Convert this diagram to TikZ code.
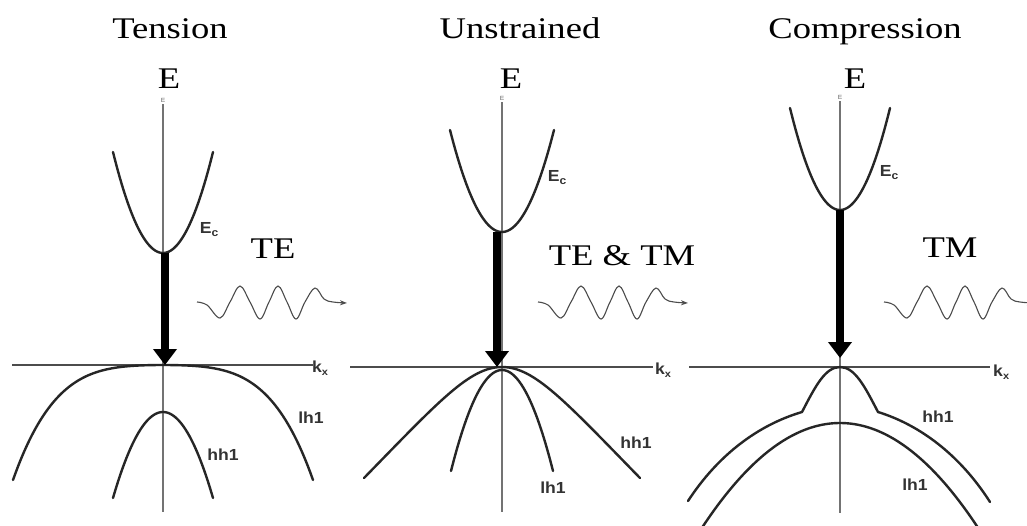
\documentclass[tikz,border=0pt]{standalone}
\usepackage{fontspec}
\setmainfont{Liberation Serif}[FakeStretch=1.22]
\newfontfamily\labfont{Liberation Sans}[FakeStretch=1.1]
\usetikzlibrary{arrows.meta}
\begin{document}
\begin{tikzpicture}[x=1pt,y=-1pt,
  band/.style={line width=2.4pt, black!85, line cap=round},
  haxis/.style={line width=1.3pt, black!70},
  vaxis/.style={line width=1.2pt, black!55},
  title/.style={font=\fontsize{30}{30}\selectfont, inner sep=0pt, anchor=base},
  small/.style={font=\labfont\bfseries\fontsize{16}{16}\selectfont, text=black!80, inner sep=0pt},
  tiny/.style={font=\labfont\fontsize{6}{6}\selectfont, text=black!60, inner sep=0pt},
  transition/.style={line width=8.5pt, black, -{Triangle[length=16pt,width=23pt]}},
  photon/.pic={\draw[line width=1.1pt, black!70, -{Stealth[length=7pt,width=5pt]}]
     plot[smooth, tension=0.6] coordinates {(0,0) (10,3) (23,16) (33,0) (43,-16) (53,0) (63,17) (72,0) (81,-16) (90,0) (99,17) (108,0) (118,-14) (127,-3) (136,0) (150,1)};}
]
\fill[white] (0,0) rectangle (1027,525);
\path[use as bounding box] (0,0) rectangle (1027,525);

%% ---------------- Panel 1: Tension ----------------
\node[title] (t1) at (170,38) {Tension};
\node[title] (e1) at (169,88) {E};
\node[tiny] (se1) at (163,100) {E};
\draw[vaxis] (163,104) -- (163,512);
\draw[haxis] (12,365) -- (313,365);
\node[small, anchor=west] (k1) at (312,368) {k\raisebox{-3pt}{\fontsize{10}{10}\selectfont x}};
\draw[band] plot[domain=-50:50, samples=60] ({163+\x},{253-101*(\x/50)*(\x/50)});
\node[small] (ec1) at (209,230) {E\raisebox{-3pt}{\fontsize{11}{11}\selectfont c}};
\draw[band] plot[domain=-150:150, samples=120] ({163+\x},{365+115*(0.85*((\x/150)*(\x/150))*((\x/150)*(\x/150))+0.15*(\x/150)*(\x/150))});
\draw[band] plot[domain=-50:50, samples=60] ({163+\x},{412+86*(\x/50)*(\x/50)});
\node[small] (lh1a) at (311,418) {lh1};
\node[small] (hh1a) at (223,455) {hh1};
\coordinate (c1) at (165,253);
\coordinate (v1) at (165,365);
\draw[transition] (c1) -- (v1);
\node[title] (te1) at (273,258) {TE};
\pic at (197,302) {photon};

%% ---------------- Panel 2: Unstrained ----------------
\node[title] (t2) at (520,38) {Unstrained};
\node[title] (e2) at (511,88) {E};
\node[tiny] (se2) at (502,98) {E};
\draw[vaxis] (502,102) -- (502,512);
\draw[haxis] (350,367) -- (653,367);
\node[small, anchor=west] (k2) at (655,370) {k\raisebox{-3pt}{\fontsize{10}{10}\selectfont x}};
\draw[band] plot[domain=-52:52, samples=60] ({502+\x},{232-102*(\x/52)*(\x/52)});
\node[small] (ec2) at (557,178) {E\raisebox{-3pt}{\fontsize{11}{11}\selectfont c}};
\draw[band] (364,478) .. controls (440,400) and (470,367) .. (502,367)
                      .. controls (534,367) and (564,400) .. (640,478);
\draw[band] plot[domain=-51:51, samples=60] ({502+\x},{370+101*(\x/51)*(\x/51)});
\node[small] (hh1b) at (636,443) {hh1};
\node[small] (lh1b) at (553,488) {lh1};
\coordinate (c2) at (497,232);
\coordinate (v2) at (497,367);
\draw[transition] (c2) -- (v2);
\node[title] (te2) at (622,265) {TE \& TM};
\pic at (538,302) {photon};

%% ---------------- Panel 3: Compression ----------------
\node[title] (t3) at (865,38) {Compression};
\node[title] (e3) at (855,88) {E};
\node[tiny] (se3) at (840,97) {E};
\draw[vaxis] (840,101) -- (840,513);
\draw[haxis] (689,367) -- (990,367);
\node[small, anchor=west] (k3) at (993,372) {k\raisebox{-3pt}{\fontsize{10}{10}\selectfont x}};
\draw[band] plot[domain=-50:50, samples=60] ({840+\x},{210-102*(\x/50)*(\x/50)});
\node[small] (ec3) at (889,173) {E\raisebox{-3pt}{\fontsize{11}{11}\selectfont c}};
\draw[band, line join=round] (688,501) .. controls (718,455) and (758,425) .. (802,412)
   .. controls (815,387) and (825,367) .. (840,367)
   .. controls (855,367) and (865,387) .. (878,412)
   .. controls (920,425) and (960,455) .. (990,502);
\draw[band] plot[domain=-150:150, samples=100] ({840+\x},{423+123.75*(\x/150)*(\x/150)});
\node[small] (hh1c) at (938,417) {hh1};
\node[small] (lh1c) at (915,485) {lh1};
\coordinate (c3) at (840,210);
\coordinate (v3) at (840,358);
\draw[transition] (c3) -- (v3);
\node[title] (tm3) at (950,257) {TM};
\pic at (884,302) {photon};
\end{tikzpicture}
\end{document}
